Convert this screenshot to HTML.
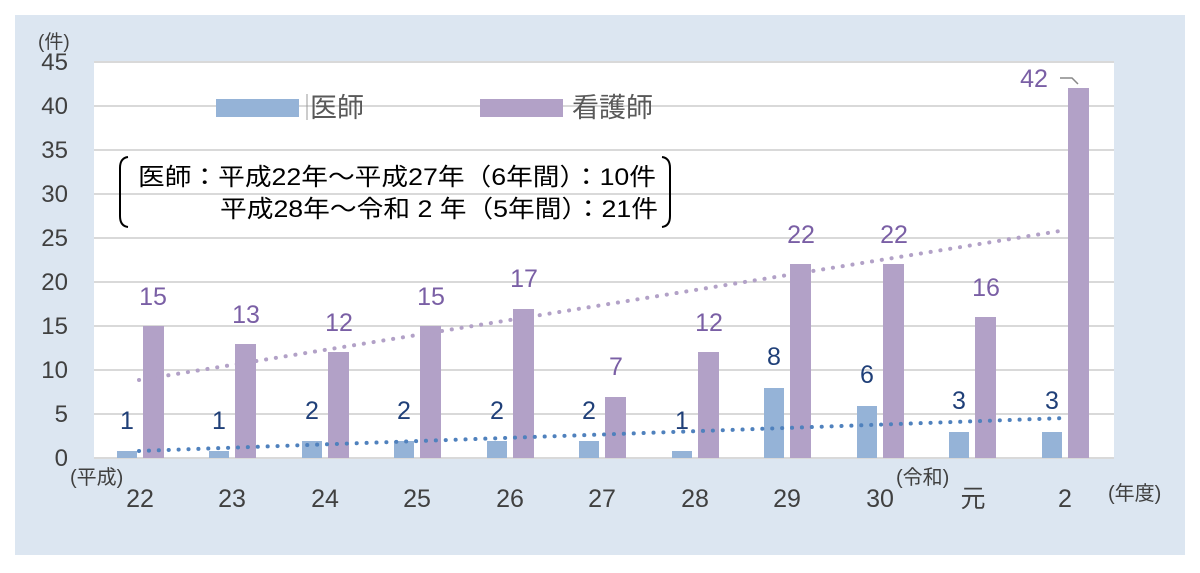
<!DOCTYPE html>
<html><head><meta charset="utf-8"><style>
body{margin:0;background:#fff;}
svg{display:block;font-family:"Liberation Sans","Noto Sans CJK JP",sans-serif;}
</style></head><body>
<svg width="1200" height="573" viewBox="0 0 1200 573">
<rect x="0" y="0" width="1200" height="573" fill="#fff"/>
<rect x="15" y="15" width="1170" height="540" fill="#dce6f1"/>
<rect x="94" y="62" width="1020" height="397" fill="#fff"/>
<g stroke="#d9d9d9" stroke-width="2">
<line x1="94" y1="62" x2="1114" y2="62"/>
<line x1="94" y1="106" x2="1114" y2="106"/>
<line x1="94" y1="150" x2="1114" y2="150"/>
<line x1="94" y1="194" x2="1114" y2="194"/>
<line x1="94" y1="238" x2="1114" y2="238"/>
<line x1="94" y1="282" x2="1114" y2="282"/>
<line x1="94" y1="326" x2="1114" y2="326"/>
<line x1="94" y1="370" x2="1114" y2="370"/>
<line x1="94" y1="414" x2="1114" y2="414"/>
<line x1="94" y1="458" x2="1114" y2="458"/>
</g>
<g font-size="24" fill="#404040" text-anchor="end">
<text x="68" y="70">45</text><text x="68" y="114">40</text><text x="68" y="158">35</text>
<text x="68" y="202">30</text><text x="68" y="246">25</text><text x="68" y="290">20</text>
<text x="68" y="334">15</text><text x="68" y="378">10</text><text x="68" y="422">5</text><text x="68" y="466">0</text>
</g>
<text x="38" y="48" font-size="19" fill="#404040">(件)</text>
<g id="bars">
<rect x="117" y="451" width="20" height="7" fill="#95b3d7"/><rect x="143" y="326" width="21" height="132" fill="#b2a1c7"/>
<rect x="209" y="451" width="20" height="7" fill="#95b3d7"/><rect x="235" y="344" width="21" height="114" fill="#b2a1c7"/>
<rect x="302" y="441" width="20" height="17" fill="#95b3d7"/><rect x="328" y="352" width="21" height="106" fill="#b2a1c7"/>
<rect x="394" y="441" width="20" height="17" fill="#95b3d7"/><rect x="420" y="326" width="21" height="132" fill="#b2a1c7"/>
<rect x="487" y="441" width="20" height="17" fill="#95b3d7"/><rect x="513" y="309" width="21" height="149" fill="#b2a1c7"/>
<rect x="579" y="441" width="20" height="17" fill="#95b3d7"/><rect x="605" y="397" width="21" height="61" fill="#b2a1c7"/>
<rect x="672" y="451" width="20" height="7" fill="#95b3d7"/><rect x="698" y="352" width="21" height="106" fill="#b2a1c7"/>
<rect x="764" y="388" width="20" height="70" fill="#95b3d7"/><rect x="790" y="264" width="21" height="194" fill="#b2a1c7"/>
<rect x="857" y="406" width="20" height="52" fill="#95b3d7"/><rect x="883" y="264" width="21" height="194" fill="#b2a1c7"/>
<rect x="949" y="432" width="20" height="26" fill="#95b3d7"/><rect x="975" y="317" width="21" height="141" fill="#b2a1c7"/>
<rect x="1042" y="432" width="20" height="26" fill="#95b3d7"/><rect x="1068" y="88" width="21" height="370" fill="#b2a1c7"/>
</g>
<line x1="139" y1="380" x2="1066" y2="230" stroke="#b2a1c7" stroke-width="4" stroke-dasharray="0.1 9.8" stroke-linecap="round"/>
<line x1="139" y1="451" x2="1066" y2="418" stroke="#4f81bd" stroke-width="4" stroke-dasharray="0.1 9.8" stroke-linecap="round"/>
<g font-size="25" fill="#1f3f78" text-anchor="middle">
<text x="127" y="429">1</text><text x="219" y="429">1</text><text x="312" y="419">2</text><text x="404" y="419">2</text>
<text x="497" y="419">2</text><text x="589" y="419">2</text><text x="682" y="429">1</text><text x="774" y="365">8</text>
<text x="867" y="383">6</text><text x="959" y="409">3</text><text x="1052" y="409">3</text>
</g>
<g font-size="25" fill="#7a5fa5" text-anchor="middle">
<text x="153" y="305">15</text><text x="246" y="323">13</text><text x="339" y="331">12</text><text x="431" y="305">15</text>
<text x="524" y="287">17</text><text x="616" y="375">7</text><text x="709" y="331">12</text><text x="801" y="243">22</text>
<text x="894" y="243">22</text><text x="986" y="296">16</text><text x="1034" y="87">42</text>
</g>
<polyline points="1060,78 1072,78 1078,84" fill="none" stroke="#888" stroke-width="1.5"/>
<g font-size="25" fill="#404040" text-anchor="middle">
<text x="140" y="507">22</text><text x="232" y="507">23</text><text x="325" y="507">24</text><text x="417" y="507">25</text>
<text x="510" y="507">26</text><text x="602" y="507">27</text><text x="695" y="507">28</text><text x="787" y="507">29</text>
<text x="880" y="507">30</text><text x="973" y="507">元</text><text x="1065" y="507">2</text>
</g>
<text x="70" y="484" font-size="20" fill="#404040">(平成)</text>
<text x="896" y="484" font-size="20" fill="#404040">(令和)</text>
<text x="1108" y="500" font-size="20" fill="#404040">(年度)</text>
<rect x="216" y="99" width="83" height="18" fill="#95b3d7"/>
<line x1="307" y1="94" x2="307" y2="120" stroke="#999" stroke-width="1"/>
<text x="310" y="117" font-size="27" fill="#595959">医師</text>
<rect x="480" y="99" width="83" height="18" fill="#b2a1c7"/>
<text x="572" y="117" font-size="27" fill="#595959">看護師</text>
<path d="M128 157 Q120 158 120 168 L120 216 Q120 226 128 227" fill="none" stroke="#000" stroke-width="2"/>
<path d="M662 157 Q670 158 670 168 L670 216 Q670 226 662 227" fill="none" stroke="#000" stroke-width="2"/>
<text x="138" y="185" font-size="24" fill="#000" textLength="518" lengthAdjust="spacingAndGlyphs">医師：平成22年～平成27年（6年間）：10件</text>
<text x="220" y="217" font-size="24" fill="#000" textLength="438" lengthAdjust="spacingAndGlyphs">平成28年～令和 2 年（5年間）：21件</text>
</svg>
</body></html>
